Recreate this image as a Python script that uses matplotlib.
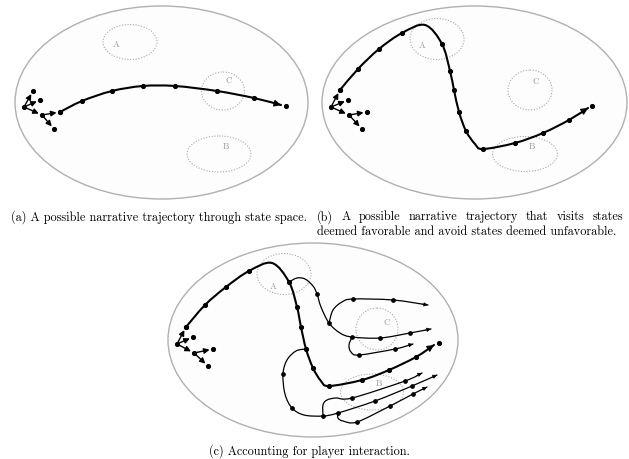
import numpy as np
import matplotlib
matplotlib.use("Agg")
import matplotlib.pyplot as plt
from matplotlib.patches import Ellipse, PathPatch
from matplotlib.path import Path

# ---------------- data (pixel coordinates of the reference) ----------------
# state-space ellipses: (cx, cy, w, h)
space_a = (161.5, 102.5, 293, 193)
space_b = (474.5, 102.5, 305, 193)
space_c = (313, 340, 290, 194)

# regions A, B, C per panel: (cx, cy, w, h)
regions_a = {"A": (130, 42, 54, 35), "C": (223, 91, 43, 38), "B": (219, 154, 64, 36)}
regions_b = {"A": (437, 39, 54, 41), "C": (530, 90, 44, 40), "B": (525, 154, 65, 35)}
regions_c = {"A": (284, 274, 54, 41), "C": (377, 329, 42, 42), "B": (372, 392, 63, 36)}
labels_a = {"A": (116, 45), "C": (229, 81), "B": (226, 147)}
labels_b = {"A": (422, 46), "C": (536, 82), "B": (532, 147)}
labels_c = {"A": (273, 287), "C": (387, 323), "B": (379, 384)}

# start clusters: center, first-level leaves, second-level (from leaf index 2)
start_a = (24, 107); leaves_a = [(33, 91), (40, 100), (42, 115)]; sub_a = [(60, 112), (54, 129)]
start_b = (331, 107); leaves_b = [(340, 90), (348, 100), (349, 115)]; sub_b = [(367, 112), (362, 129)]
start_c = (177, 344); leaves_c = [(186, 327), (193, 337), (194, 353)]; sub_c = [(213, 349), (208, 366)]

# trajectories: x, y, dot flag (last point = arrow tip)
traj_a_x = [60, 82, 112, 143, 175, 217, 254, 281]
traj_a_y = [112, 101, 91, 86, 86, 91, 98, 105]
traj_a_d = [1, 1, 1, 1, 1, 1, 1, 0]
end_a = (286, 106)

traj_b_x = [340, 358, 379, 402, 425, 442, 450, 454, 459, 466, 475, 483, 515, 543, 569, 588]
traj_b_y = [90, 69, 49, 33, 25, 44, 71, 90, 112, 131, 144, 149, 143, 133, 120, 108]
traj_b_d = [1, 1, 1, 1, 0, 1, 1, 1, 1, 1, 0, 1, 1, 1, 1, 0]
end_b = (592, 106)

traj_c_x = [186, 205, 226, 249, 272, 289, 297, 301, 306, 313, 321, 329, 362, 389, 416, 434]
traj_c_y = [327, 305, 287, 271, 263, 282, 307, 327, 349, 368, 381, 386, 380, 370, 357, 345]
traj_c_d = [1, 1, 1, 1, 0, 1, 1, 1, 1, 1, 0, 1, 1, 1, 1, 0]
end_c = (439, 343)

# player-interaction branches in panel (c)
br_u1_x = [289, 297, 305, 313, 317, 321, 329, 340, 352, 380, 410, 431]
br_u1_y = [282, 278, 279, 286, 294, 307, 323, 333, 337, 338, 333, 329]
br_u1_d = [0, 0, 0, 0, 1, 0, 1, 0, 1, 1, 1, 0]
br_u2_x = [329, 333, 342, 353, 393, 428]
br_u2_y = [323, 310, 302, 299, 300, 305]
br_u2_d = [0, 0, 0, 1, 1, 0]
br_u3_x = [352, 349, 351, 359, 395, 413]
br_u3_y = [337, 345, 352, 355, 349, 344]
br_u3_d = [0, 0, 0, 1, 1, 0]
br_l1_x = [306, 296, 287, 283, 285, 292, 304, 323, 338, 375, 412, 437]
br_l1_y = [349, 351, 360, 374, 394, 408, 415, 416, 413, 401, 386, 375]
br_l1_d = [0, 0, 0, 1, 0, 1, 0, 1, 1, 1, 1, 0]
br_l2_x = [323, 323, 327, 336, 352, 405, 422]
br_l2_y = [416, 405, 400, 398, 398, 381, 373]
br_l2_d = [0, 0, 0, 0, 1, 1, 0]
br_l3_x = [338, 338, 343, 357, 390, 413, 427]
br_l3_y = [413, 418, 421, 422, 406, 394, 387]
br_l3_d = [0, 0, 0, 1, 1, 1, 0]

caption_a = "(a) A possible narrative trajectory through state space."
caption_b1 = "(b) A possible narrative trajectory that visits states"
caption_b2 = "deemed favorable and avoid states deemed unfavorable."
caption_c = "(c) Accounting for player interaction."

# ---------------- drawing ----------------
W, H = 629, 459
fig = plt.figure(figsize=(W / 100, H / 100), dpi=100)
ax = fig.add_axes([0, 0, 1, 1])
ax.set_xlim(0, W)
ax.set_ylim(H, 0)
ax.axis("off")

FONT = "cmr10"
GRAY = "#a8a8a8"
MS = 2.7


def catmull_path(xs, ys):
    P = np.column_stack([xs, ys]).astype(float)
    n = len(P)
    verts = [P[0]]
    codes = [Path.MOVETO]
    for i in range(n - 1):
        p0 = P[i - 1] if i > 0 else P[i]
        p1, p2 = P[i], P[i + 1]
        p3 = P[i + 2] if i + 2 < n else P[i + 1]
        c1 = p1 + (p2 - p0) / 6.0
        c2 = p2 - (p3 - p1) / 6.0
        verts += [c1, c2, p2]
        codes += [Path.CURVE4] * 3
    return Path(verts, codes), verts[-2]


def draw_traj(xs, ys, dots, lw, head, ms):
    path, ctrl = catmull_path(xs, ys)
    ax.add_patch(PathPatch(path, fill=False, lw=lw, color="k", capstyle="round", zorder=3))
    dx = np.array([xs[-1], ys[-1]]) - np.array(ctrl)
    dx = dx / np.hypot(*dx)
    tail = np.array([xs[-1], ys[-1]]) - dx * 6
    ax.annotate("", xy=(xs[-1], ys[-1]), xytext=tuple(tail),
                arrowprops=dict(arrowstyle="-|>", color="k", lw=lw * 0.6,
                                mutation_scale=head, shrinkA=0, shrinkB=0), zorder=4)
    px = [x for x, d in zip(xs, dots) if d]
    py = [y for y, d in zip(ys, dots) if d]
    ax.plot(px, py, "o", color="k", ms=ms, zorder=5)


def draw_start(center, leaves, sub):
    pts = [center] + leaves + sub
    for a, b in [(center, l) for l in leaves] + [(leaves[2], s) for s in sub]:
        ax.annotate("", xy=b, xytext=a,
                    arrowprops=dict(arrowstyle="-|>", color="k", lw=1.0,
                                    mutation_scale=8, shrinkA=0, shrinkB=2.5), zorder=4)
    ax.plot([p[0] for p in pts], [p[1] for p in pts], "o", color="k", ms=MS, zorder=5)


def draw_space(space, regions, labels):
    cx, cy, w, h = space
    ax.add_patch(Ellipse((cx, cy), w, h, facecolor="#fdfdfd", edgecolor="#b0b0b0", lw=1.0, zorder=1))
    for k, (rx, ry, rw, rh) in regions.items():
        ax.add_patch(Ellipse((rx, ry), rw, rh, fill=False, edgecolor=GRAY, lw=0.8,
                             ls=(0, (1, 1.5)), zorder=2))
        ax.text(*labels[k], k, color="#9a9a9a", fontsize=6.5, family=FONT,
                ha="center", va="center", zorder=2)


draw_space(space_a, regions_a, labels_a)
draw_space(space_b, regions_b, labels_b)
draw_space(space_c, regions_c, labels_c)

draw_start(start_a, leaves_a, sub_a)
draw_start(start_b, leaves_b, sub_b)
draw_start(start_c, leaves_c, sub_c)

draw_traj(traj_a_x, traj_a_y, traj_a_d, 1.5, 10, MS)
draw_traj(traj_b_x, traj_b_y, traj_b_d, 1.5, 10, MS)
draw_traj(traj_c_x, traj_c_y, traj_c_d, 1.5, 10, MS)
for e in (end_a, end_b, end_c):
    ax.plot(*e, "o", color="k", ms=MS, zorder=5)

for bx, by, bd in [(br_u1_x, br_u1_y, br_u1_d), (br_u2_x, br_u2_y, br_u2_d),
                   (br_u3_x, br_u3_y, br_u3_d), (br_l1_x, br_l1_y, br_l1_d),
                   (br_l2_x, br_l2_y, br_l2_d), (br_l3_x, br_l3_y, br_l3_d)]:
    draw_traj(bx, by, bd, 0.9, 6, 2.4)

fs = 8.8
ax.text(159, 217, caption_a, family=FONT, fontsize=fs, ha="center", va="center")
ax.text(317, 232, caption_b2, family=FONT, fontsize=fs, ha="left", va="center")
ax.text(309, 451, caption_c, family=FONT, fontsize=fs, ha="center", va="center")

# justified first line of caption (b)
renderer = fig.canvas.get_renderer()
words = caption_b1.split(" ")
left, right = 317.0, 623.0
tmp = [ax.text(0, 217, w, family=FONT, fontsize=fs, ha="left", va="center") for w in words]
widths = []
for t in tmp:
    bb = t.get_window_extent(renderer)
    widths.append(bb.width)
gap = (right - left - sum(widths)) / (len(words) - 1)
x = left
for t, wdt in zip(tmp, widths):
    t.set_x(x)
    x += wdt + gap

fig.savefig("out.png", dpi=100, facecolor="white")
